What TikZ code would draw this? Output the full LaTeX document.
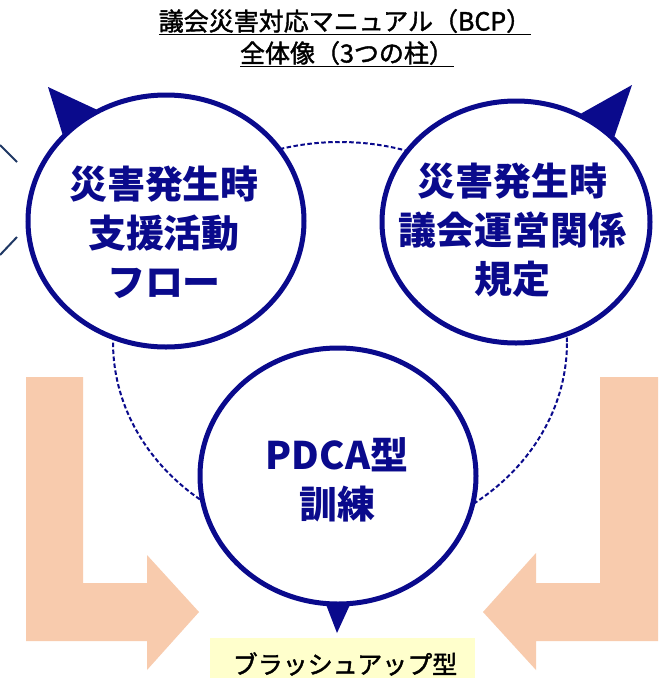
\documentclass[tikz,border=0pt]{standalone}
\usepackage{fontspec}
\newfontfamily\jp{Noto Sans CJK JP}
\newfontfamily\jpm{Noto Sans CJK JP}[FakeBold=1.6]
\usetikzlibrary{shapes.geometric}
\definecolor{navy}{RGB}{10,10,140}
\definecolor{edgeline}{RGB}{31,56,100}
\definecolor{peach}{RGB}{248,203,173}
\definecolor{lightyellow}{RGB}{255,255,204}
\tikzset{
  bubble/.style={ellipse, draw=navy, line width=5pt, fill=white, inner sep=0pt},
  bubbletext/.style={text=navy, align=center, font=\jp\bfseries\fontsize{38}{49}\selectfont, inner sep=0pt},
  pointer/.style={fill=navy},
  titletext/.style={text=black, font=\jpm\fontsize{25}{30}\selectfont, inner sep=0pt},
  bigarrow/.style={fill=peach},
}
\begin{document}
\begin{tikzpicture}[x=1pt,y=-1pt]
\useasboundingbox[fill=white] (0,0) rectangle (664,678);
% dashed ring
\draw[navy, line width=2pt, dash pattern=on 4.5pt off 2.5pt] (340,342) ellipse [x radius=227pt, y radius=200pt];
% cut-off lines at left edge
\draw[edgeline, line width=2pt] (0,145) -- (17,162);
\draw[edgeline, line width=2pt] (17,237) -- (0,255);
% orange L arrows
\fill[bigarrow] (26,377) -- (83,377) -- (83,583) -- (147,583) -- (147,555) -- (199,612) -- (147,670) -- (147,641) -- (26,641) -- cycle;
\fill[bigarrow] (658,377) -- (600,377) -- (600,583) -- (536,583) -- (536,553) -- (483,612) -- (536,670) -- (536,641) -- (658,641) -- cycle;
% bubbles
\node[bubble, minimum width=276pt, minimum height=252pt] (L) at (166,221) {};
\node[bubble, minimum width=268pt, minimum height=242pt] (R) at (516,222) {};
\node[bubble, minimum width=276pt, minimum height=256pt] (B) at (338,476) {};
\fill[pointer] (L.140) -- (48,87) -- (L.122) -- cycle;
\fill[pointer] (R.59) -- (632,85) -- (R.41) -- cycle;
\fill[pointer] (B.265) -- (337,633) -- (B.275) -- cycle;
% bubble texts
\node[bubbletext] (Lt) at (164,232) {災害発生時\\支援活動\\フロー};
\node[bubbletext] (Rt) at (512,230) {災害発生時\\議会運営関係\\規定};
\node[bubbletext] (Bt) at (337,480) {PDCA型\\訓練};
% title
\node[titletext] (t1) at (345,22) {\underline{議会災害対応マニュアル（BCP）}};
\node[titletext] (t2) at (347,54) {\underline{全体像（3つの柱）}};
% bottom label
\node[fill=lightyellow, minimum width=265pt, minimum height=40pt, inner sep=0pt] (box) at (342.5,658) {};
\node[titletext] (lab) at (345,664) {ブラッシュアップ型};
\end{tikzpicture}
\end{document}
